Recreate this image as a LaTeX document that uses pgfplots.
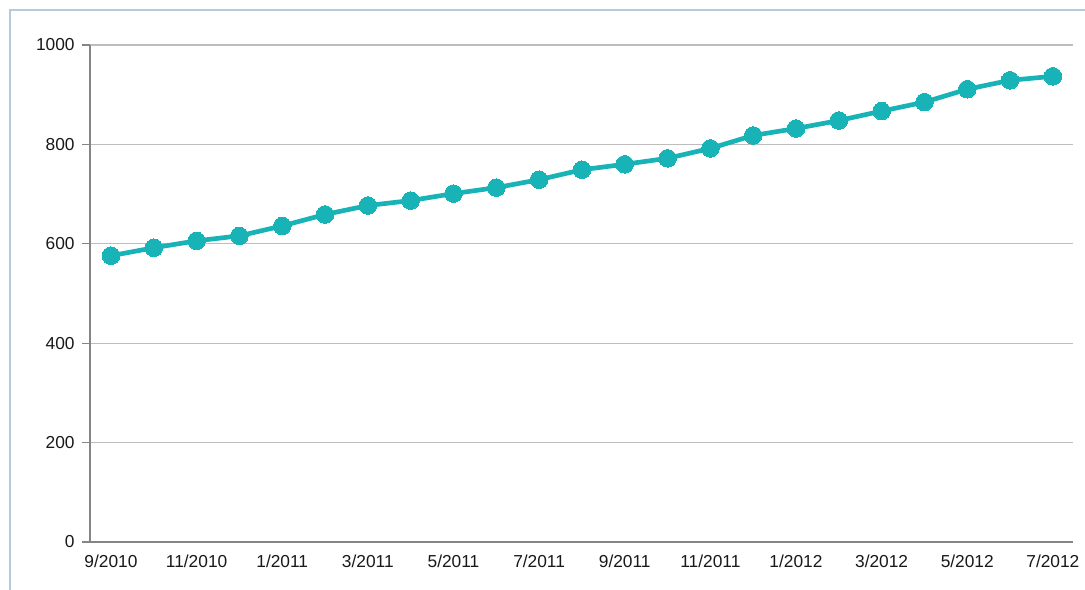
\documentclass[border=0pt]{standalone}
\usepackage{pgfplots}
\pgfplotsset{compat=1.18}
\usepackage{fontspec}
\setmainfont{Liberation Sans}
\definecolor{lineteal}{HTML}{17B3B6}
\definecolor{gridgrey}{HTML}{BDBDBD}
\definecolor{axisgrey}{HTML}{858585}
\definecolor{frameblue}{HTML}{B9C9DD}
\begin{document}
\fontsize{13}{15}\selectfont
% 1 px of the reference = 0.75pt, y measured upward from the bottom edge
\begin{tikzpicture}
\useasboundingbox (0pt,0pt) rectangle (813.75pt,441.75pt);
\fill[white] (0pt,0pt) rectangle (813.75pt,441.75pt);
\begin{scope}
\clip (0pt,0pt) rectangle (813.75pt,441.75pt);
\draw[frameblue, line width=1.2pt] (7.5pt,-10pt) rectangle (830pt,434.25pt);
\end{scope}
\begin{axis}[
  at={(67.5pt,35.25pt)}, anchor=south west,
  scale only axis,
  width=737.25pt, height=372.75pt,
  xmin=-0.49, xmax=22.47,
  ymin=0, ymax=1000,
  axis x line*=bottom, axis y line*=left,
  axis line style={axisgrey, line width=0.9pt},
  ytick={0,200,...,1000},
  ymajorgrids,
  major grid style={gridgrey, line width=0.8pt},
  tick align=outside,
  major tick length=6pt,
  ytick style={axisgrey, line width=0.8pt},
  xtick={0,2,...,22},
  xticklabels={9/2010,11/2010,1/2011,3/2011,5/2011,7/2011,9/2011,11/2011,1/2012,3/2012,5/2012,7/2012},
  xtick style={draw=none},
  /pgf/number format/assume math mode=true,
  /pgf/number format/1000 sep={},
  tick label style={font=\fontsize{13}{15}\selectfont, text=black!90},
  yticklabel style={xshift=-1pt},
  xticklabel style={yshift=1pt},
]
\addplot[lineteal, line width=3.5pt, mark=*, mark size=6.6pt,
  mark options={fill=lineteal, draw=lineteal, line width=0pt}]
coordinates {
(0,576) (1,592) (2,606) (3,616) (4,636) (5,659) (6,677) (7,687)
(8,701) (9,713) (10,729) (11,749) (12,760) (13,772) (14,792) (15,818)
(16,832) (17,848) (18,867) (19,885) (20,911) (21,929) (22,937)
};
\end{axis}
\end{tikzpicture}
\end{document}
